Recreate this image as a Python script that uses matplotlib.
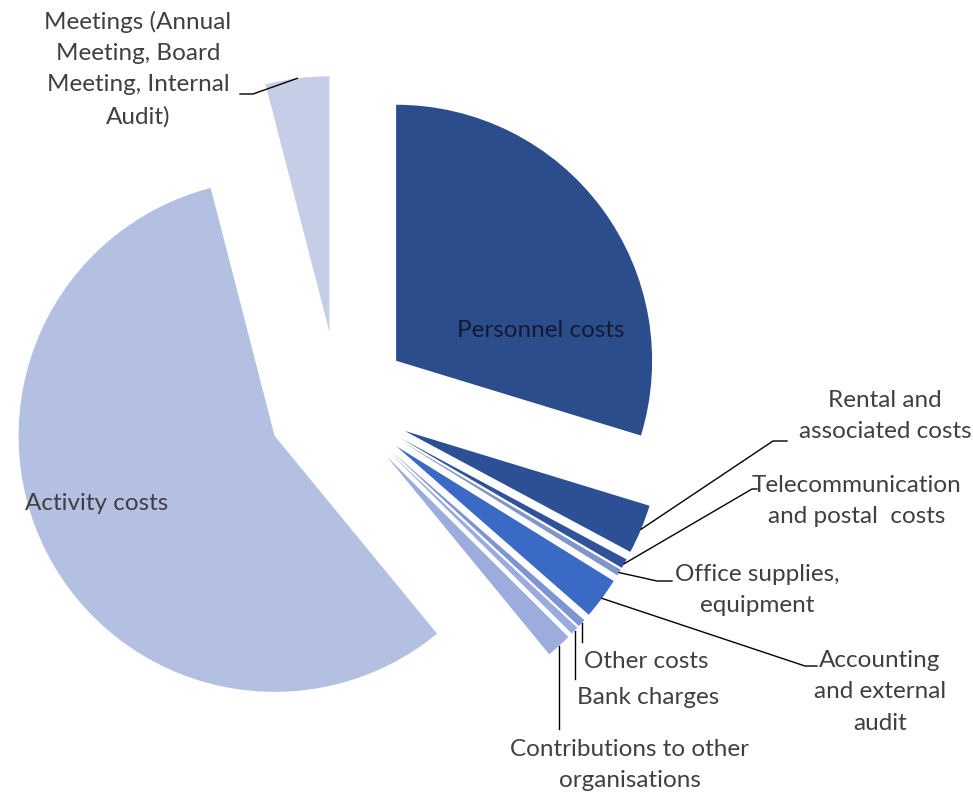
import numpy as np
import matplotlib
matplotlib.use("Agg")
import matplotlib.pyplot as plt

# cost shares (%), clockwise from 12 o'clock
categories = ["Personnel costs", "Rental and\nassociated costs",
              "Telecommunication\nand postal  costs", "Office supplies,\nequipment",
              "Accounting\nand external\naudit", "Other costs", "Bank charges",
              "Contributions to other\norganisations", "Activity costs",
              "Meetings (Annual\nMeeting, Board\nMeeting, Internal\nAudit)"]
shares = [29.6, 3.1, 0.6, 0.4, 2.6, 0.5, 0.5, 1.6, 56.7, 4.0]
colors = ["#2C4D8B", "#2C4F95", "#30529A", "#8096C8", "#3A69C6",
          "#7E95D2", "#9AACDE", "#9BACDD", "#B3C0E1", "#C6CEE7"]

W, H = 973, 804
CX, CY, R = 338.5, 404.4, 256.0


def px(x, y):
    # pixel position -> data coords (radius 1 == R pixels)
    return (x - CX) / R, (CY - y) / R


plt.rcParams["font.family"] = ["Lato", "DejaVu Sans"]
fig = plt.figure(figsize=(W / 100, H / 100), dpi=100)
ax = fig.add_axes([0, 0, 1, 1])
wedges, _ = ax.pie(shares, colors=colors, startangle=90, counterclock=False,
                   explode=[0.28] * len(shares), radius=1.0,
                   wedgeprops=dict(linewidth=0))
x0, y1 = px(0, 0)
x1, y0 = px(W, H)
ax.set_xlim(x0, x1)
ax.set_ylim(y0, y1)
ax.set_aspect("auto")
ax.axis("off")


def arc_point(w, frac=0.5):
    t = np.deg2rad(w.theta1 + frac * (w.theta2 - w.theta1))
    cx, cy = w.center
    return cx + w.r * np.cos(t), cy + w.r * np.sin(t)


txt = "#404040"
fs = 17.5
ls = 1.6

# labels inside slices
ax.text(*px(541, 331), categories[0], ha="center", va="center", fontsize=fs, color="#141a33")
ax.text(*px(97, 503), categories[8], ha="center", va="center", fontsize=fs, color=txt)

# labels with angled leaders: (index, elbow px, end px, text centre px)
angled = [
    (1, (773, 442), (787, 442), (885, 416)),
    (2, (752, 490), (757, 490), (857, 501)),
    (3, (657, 582), (672, 582), (757, 590)),
    (4, (805, 667), (817, 667), (880, 692)),
]
for i, elbow, end, pos in angled:
    sx, sy = arc_point(wedges[i])
    ex, ey = px(*elbow)
    fx, fy = px(*end)
    ax.plot([sx, ex, fx], [sy, ey, fy], color="black", lw=1)
    ax.text(*px(*pos), categories[i], ha="center", va="center", fontsize=fs,
            color=txt, linespacing=ls)

# meetings
sx, sy = arc_point(wedges[9])
ax.plot([sx, px(253, 95)[0], px(240, 95)[0]], [sy, px(253, 95)[1], px(240, 95)[1]],
        color="black", lw=1)
ax.text(*px(138, 69), categories[9], ha="center", va="center", fontsize=fs,
        color=txt, linespacing=ls)

# vertical leaders below
vertical = [
    (5, 643, (584, 662), "left"),
    (6, 680, (577, 698), "left"),
    (7, 730, (630, 765), "center"),
]
for i, yend, pos, ha in vertical:
    sx, sy = arc_point(wedges[i])
    ax.plot([sx, sx], [sy, px(0, yend)[1]], color="black", lw=1)
    ax.text(*px(*pos), categories[i], ha=ha, va="center", fontsize=fs,
            color=txt, linespacing=ls)

fig.savefig("out.png", dpi=100, facecolor="white")
